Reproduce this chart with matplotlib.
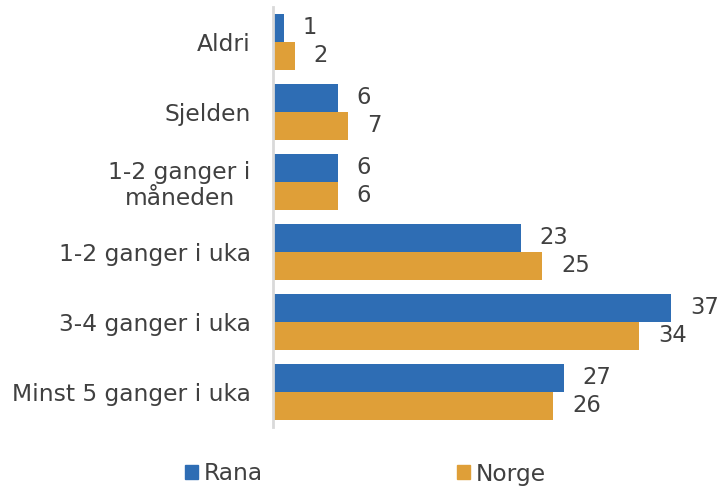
import matplotlib
matplotlib.use("Agg")
import matplotlib.pyplot as plt
import numpy as np
from matplotlib.patches import Patch

categories = ["Aldri", "Sjelden", "1-2 ganger i\nmåneden", "1-2 ganger i uka", "3-4 ganger i uka", "Minst 5 ganger i uka"]
rana = [1, 6, 6, 23, 37, 27]
norge = [2, 7, 6, 25, 34, 26]
series_names = ["Rana", "Norge"]
colors = ["#2E6DB4", "#DF9F38"]
text_color = "#404040"

plt.rcParams['font.family'] = ['DejaVu Sans']
fs = 16.8

fig = plt.figure(figsize=(7.21, 4.88), dpi=100)
ax = fig.add_axes([273/721, 1 - 427/488, 1 - 273/721, 420/488])

y = np.arange(len(categories))
h = 0.4
b1 = ax.barh(y - h/2, rana, height=h, color=colors[0])
b2 = ax.barh(y + h/2, norge, height=h, color=colors[1])

for bars, vals in ((b1, rana), (b2, norge)):
    for rect, v in zip(bars, vals):
        ax.annotate(str(v), (rect.get_width(), rect.get_y() + rect.get_height()/2),
                    xytext=(19, 1), textcoords="offset pixels",
                    ha="left", va="center", fontsize=fs - 0.5, color=text_color)

ax.set_xlim(0, 41.6)
ax.set_ylim(5.5, -0.5)
ax.set_yticks(y)
labels = ax.set_yticklabels(categories, fontsize=fs, color=text_color, linespacing=1.15)
for t in labels:
    t.set_multialignment("center")
ax.tick_params(axis="y", length=0, pad=16)
ax.set_xticks([])
for s in ["top", "right", "bottom"]:
    ax.spines[s].set_visible(False)
ax.spines["left"].set_color("#D9D9D9")
ax.spines["left"].set_linewidth(2)

handles = [Patch(color=c, label=n) for c, n in zip(colors, series_names)]
fig.legend(handles=handles, loc="center", bbox_to_anchor=(0.507, 1 - 474/488), ncol=2,
           frameon=False, fontsize=fs, handlelength=0.55, handleheight=0.55,
           handletextpad=0.25, columnspacing=8.3, labelcolor=text_color)

fig.savefig("out.png", dpi=100)
